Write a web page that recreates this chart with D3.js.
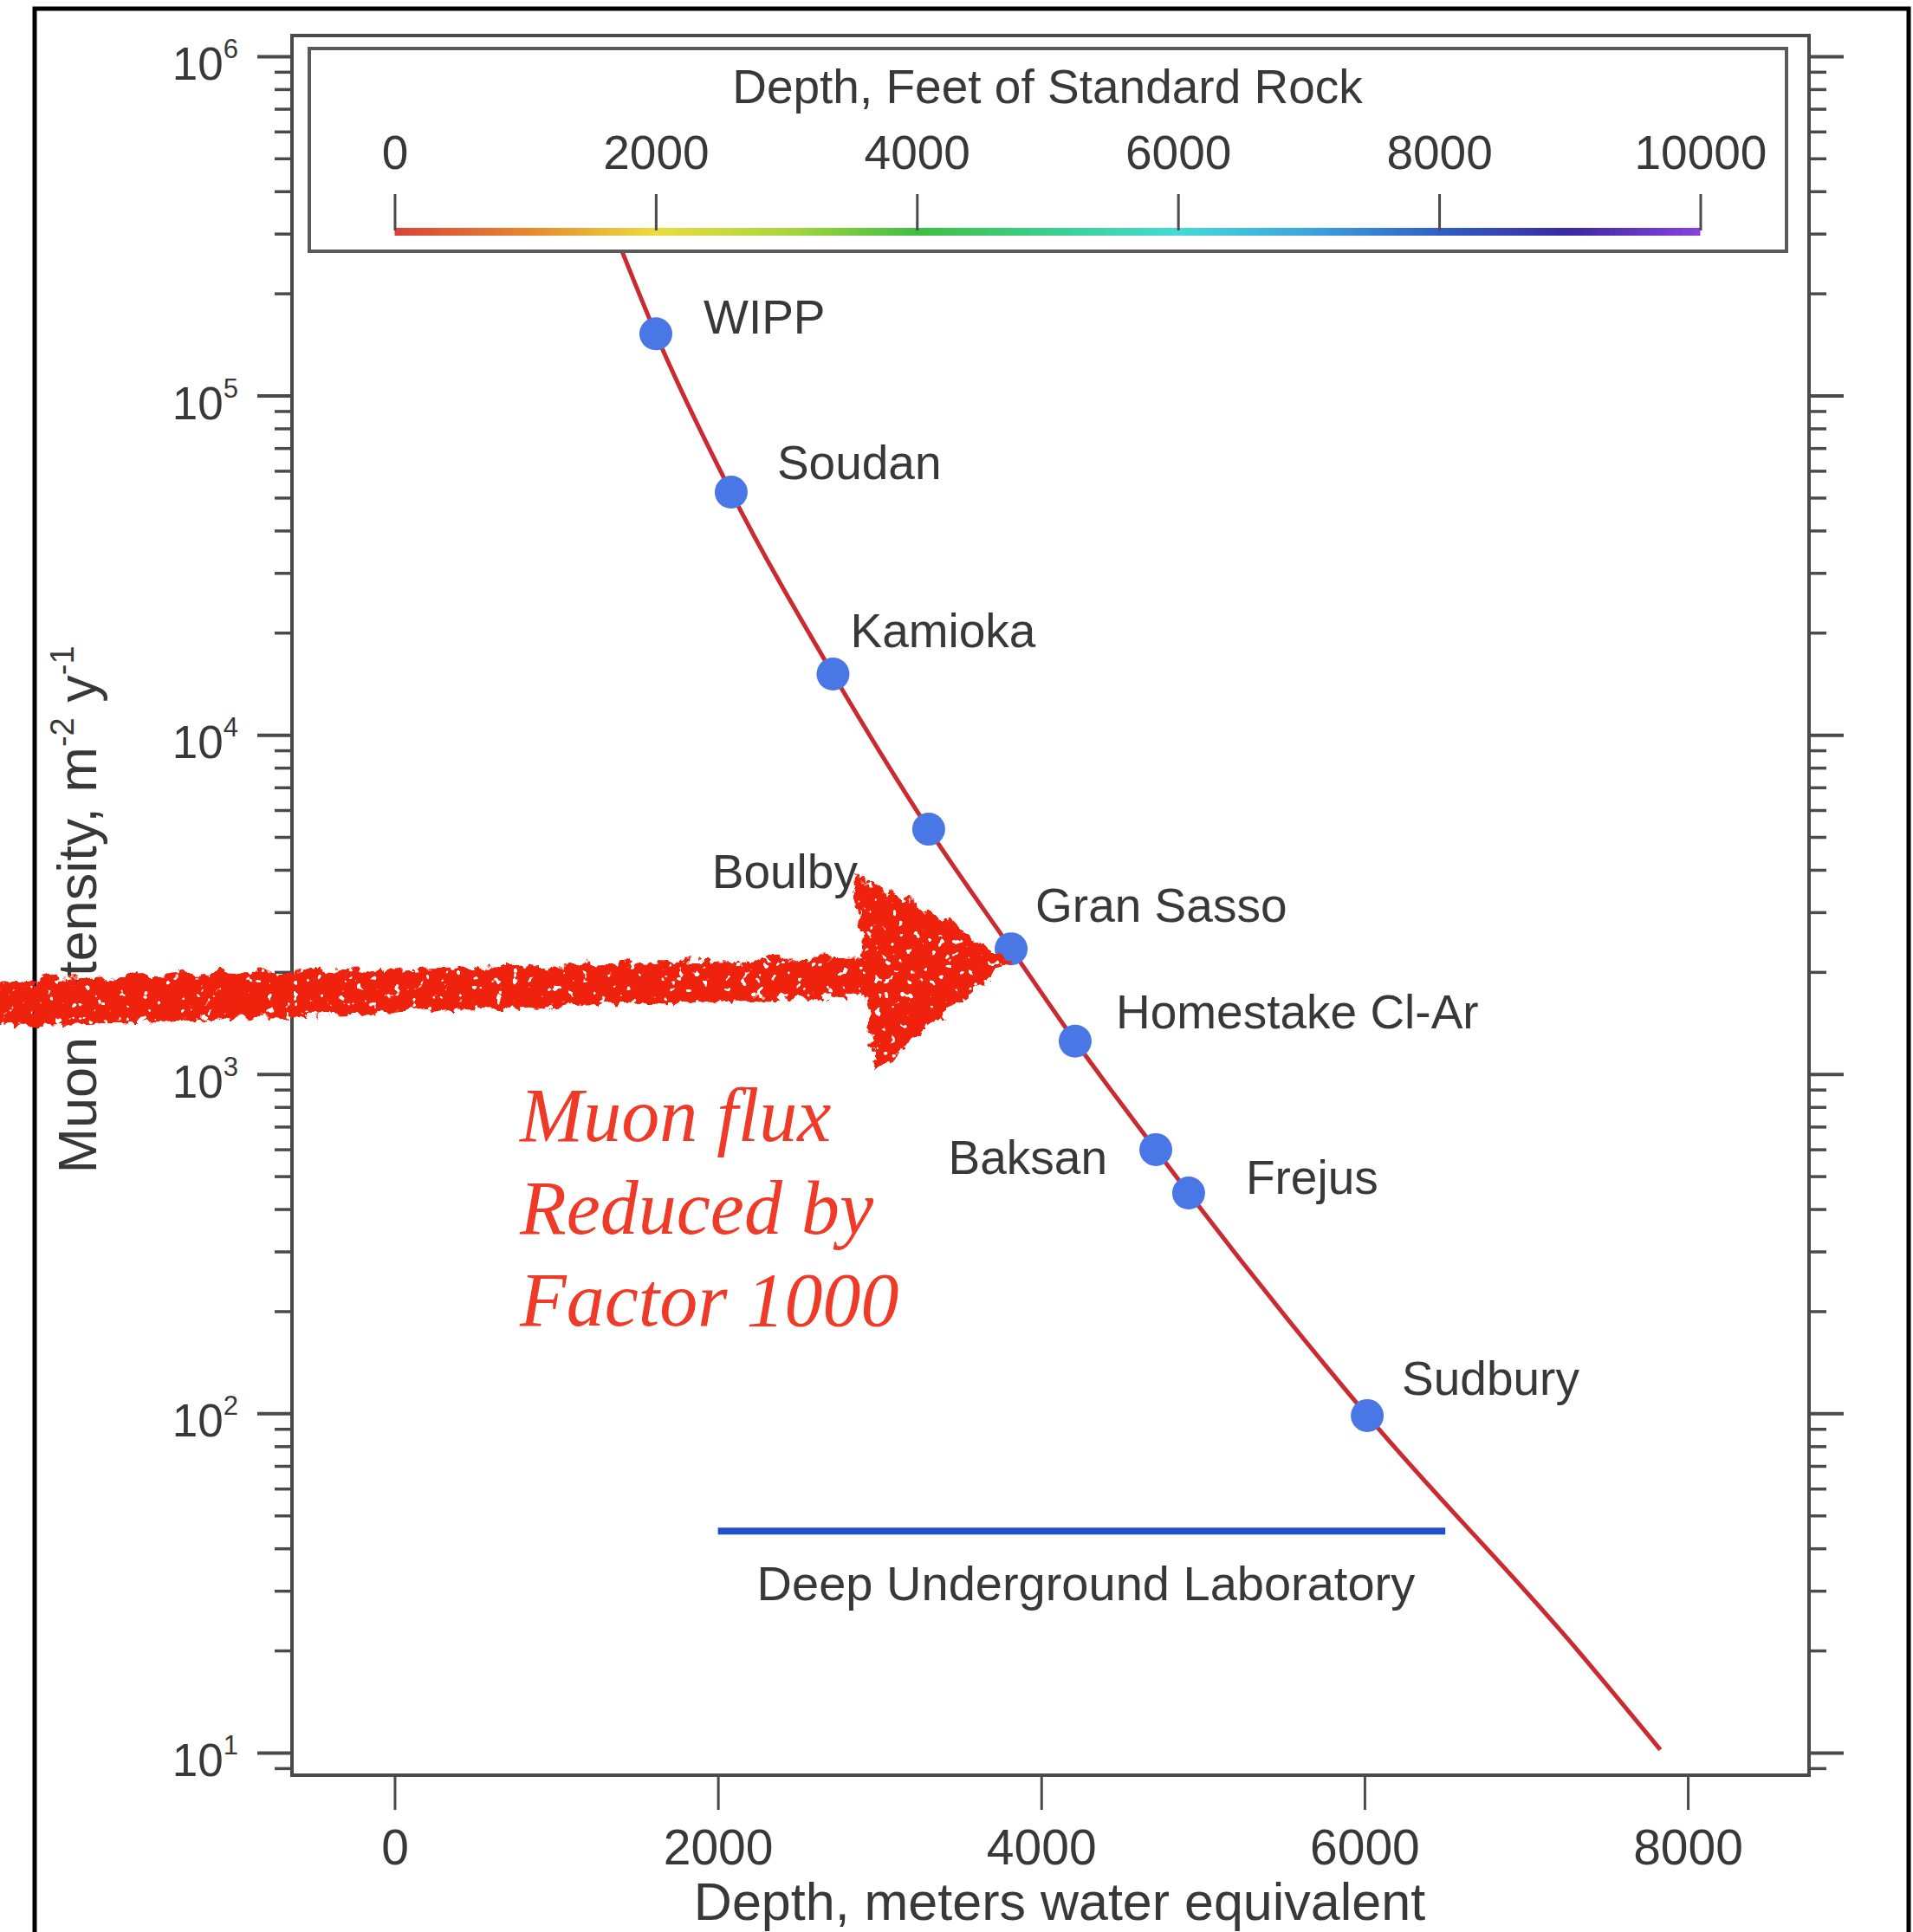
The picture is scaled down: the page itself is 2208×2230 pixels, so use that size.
<!DOCTYPE html>
<html>
<head>
<meta charset="utf-8">
<script src="https://cdn.jsdelivr.net/npm/d3@7"></script>
<style>
  html, body { margin: 0; background: #fff; overflow: hidden; }
  svg { display: block; }
</style>
</head>
<body>
<div id="chart"></div>
<script>
// underground labs
var sites = ["WIPP", "Soudan", "Kamioka", "Boulby", "Gran Sasso", "Homestake Cl-Ar", "Baksan", "Frejus", "Sudbury"];
var siteDepth = [1616, 2082, 2712, 3304, 3814, 4210, 4709, 4912, 6017];          // m w.e.
var siteIntensity = [1.52e5, 5.19e4, 1.51e4, 5.27e3, 2.34e3, 1.25e3, 599, 446, 98.5]; // m^-2 y^-1

// red curve, points
var curveDepth = [1407, 1616, 2082, 2712, 3304, 3814, 4210, 4709, 4912, 6017, 7300, 7830];
var curveIntensity = [2.66e5, 1.52e5, 5.19e4, 1.51e4, 5.27e3, 2.34e3, 1.25e3, 599, 446, 98.5, 20.5, 10.2];

// deep underground laboratory bar
var labDepth = [2000, 6500];
var labIntensity = 45;

var xTicks = [0, 2000, 4000, 6000, 8000];
var yMajorTicks = [1e1, 1e2, 1e3, 1e4, 1e5, 1e6];
var feetTicks = [0, 2000, 4000, 6000, 8000, 10000];
var xDomain = [-635, 8750];
var yDomain = [8.58, 1.151e6];

var width = 2208, height = 2230;
var plot = {left: 337, right: 2088, top: 41, bottom: 2049};
var sans = "'Liberation Sans', Arial, Helvetica, sans-serif";
var ink = "#383838", frameCol = "#4a4a4a";

var svg = d3.select("#chart").append("svg")
  .attr("width", width)
  .attr("height", height);

var defs = svg.append("defs");

var x = d3.scaleLinear().domain(xDomain).range([plot.left, plot.right]);
var y = d3.scaleLog().domain(yDomain).range([plot.bottom, plot.top]);

// standard rock 2.65 g/cm3 : feet -> m w.e.
var fx = d3.scaleLinear().domain([0, 10000]).range([x(0), x(10000 * 0.3048 * 2.65)]);

// outer black frame
svg.append("rect")
  .attr("x", 40).attr("y", 10)
  .attr("width", 2163).attr("height", 2260)
  .attr("fill", "#fff")
  .attr("stroke", "#000")
  .attr("stroke-width", 5);

// curve
var line = d3.line()
  .x(function(d) { return x(d[0]); })
  .y(function(d) { return y(d[1]); })
  .curve(d3.curveMonotoneX);

svg.append("path")
  .datum(d3.zip(curveDepth, curveIntensity))
  .attr("d", line)
  .attr("fill", "none")
  .attr("stroke", "#c92b30")
  .attr("stroke-width", 5);

// legend box (covers top of the curve)
svg.append("rect")
  .attr("x", 357).attr("y", 56)
  .attr("width", 1705).attr("height", 234)
  .attr("fill", "#fff")
  .attr("stroke", "#5a5a5a")
  .attr("stroke-width", 4);

// plot frame
svg.append("rect")
  .attr("x", plot.left).attr("y", plot.top)
  .attr("width", plot.right - plot.left).attr("height", plot.bottom - plot.top)
  .attr("fill", "none")
  .attr("stroke", frameCol)
  .attr("stroke-width", 4);

function styleAxis(g, sw) {
  g.select(".domain").remove();
  g.selectAll(".tick line").attr("stroke", frameCol).attr("stroke-width", sw);
  g.attr("font-family", sans).attr("fill", ink);
  g.selectAll(".tick text").attr("fill", ink);
}

var minorTicks = y.ticks().filter(function(v) { return yMajorTicks.indexOf(v) < 0; });

// left axis
var gl = svg.append("g").attr("transform", "translate(" + plot.left + ",0)");
gl.append("g").call(d3.axisLeft(y).tickValues(minorTicks).tickSize(20).tickFormat(""))
  .call(styleAxis, 3.5);
var glMaj = gl.append("g").call(d3.axisLeft(y).tickValues(yMajorTicks).tickSize(40).tickPadding(22).tickFormat(""))
  .call(styleAxis, 4);
glMaj.attr("font-size", 53);
glMaj.selectAll(".tick text").each(function(d) {
  var t = d3.select(this);
  t.text("10").attr("dy", "0.5em");
  t.append("tspan").attr("dy", -25).attr("font-size", 31).text(Math.round(Math.log10(d)));
});

// right axis (ticks only)
var gr = svg.append("g").attr("transform", "translate(" + plot.right + ",0)");
gr.append("g").call(d3.axisRight(y).tickValues(minorTicks).tickSize(20).tickFormat(""))
  .call(styleAxis, 3.5);
gr.append("g").call(d3.axisRight(y).tickValues(yMajorTicks).tickSize(40).tickFormat(""))
  .call(styleAxis, 4);

// bottom axis
var gb = svg.append("g").attr("transform", "translate(0," + plot.bottom + ")")
  .call(d3.axisBottom(x).tickValues(xTicks).tickSize(40).tickPadding(23).tickFormat(d3.format("d")))
  .call(styleAxis, 3);
gb.attr("font-size", 57);

// colour bar, feet of standard rock
var grad = defs.append("linearGradient").attr("id", "rainbow")
  .attr("gradientUnits", "userSpaceOnUse")
  .attr("x1", fx(0)).attr("x2", fx(10000)).attr("y1", 0).attr("y2", 0);
var stops = ["#d8433a", "#e6862f", "#ebdc3e", "#a9d63c", "#3fbf42", "#3bcf8c", "#45dad6", "#3ba5df", "#2f5fc6", "#3a28a4", "#8a42de"];
stops.forEach(function(c, i) {
  grad.append("stop").attr("offset", i / (stops.length - 1)).attr("stop-color", c);
});

svg.append("rect")
  .attr("x", fx(0)).attr("y", 263)
  .attr("width", fx(10000) - fx(0)).attr("height", 9)
  .attr("fill", "url(#rainbow)");

var gf = svg.append("g").attr("transform", "translate(0,266)")
  .call(d3.axisTop(fx).tickValues(feetTicks).tickSize(42).tickPadding(29).tickFormat(d3.format("d")))
  .call(styleAxis, 3);
gf.attr("font-size", 55);

svg.append("text")
  .attr("x", 1209).attr("y", 119)
  .attr("text-anchor", "middle")
  .attr("font-family", sans).attr("font-size", 55).attr("fill", ink)
  .text("Depth, Feet of Standard Rock");

// sites
var labelPos = {
  "WIPP": [55, 0, "start"],
  "Soudan": [53, -15, "start"],
  "Kamioka": [20, -31, "start"],
  "Boulby": [-82, 68, "end"],
  "Gran Sasso": [28, -31, "start"],
  "Homestake Cl-Ar": [47, -15, "start"],
  "Baksan": [-56, 28, "end"],
  "Frejus": [66, 1, "start"],
  "Sudbury": [40, -24, "start"]
};

var siteData = sites.map(function(s, i) { return {name: s, depth: siteDepth[i], value: siteIntensity[i]}; });

svg.selectAll(".site")
  .data(siteData)
  .enter()
  .append("circle")
  .attr("class", "site")
  .attr("cx", function(d) { return x(d.depth); })
  .attr("cy", function(d) { return y(d.value); })
  .attr("r", 19)
  .attr("fill", "#4a77e6");

svg.selectAll(".siteLabel")
  .data(siteData)
  .enter()
  .append("text")
  .attr("class", "siteLabel")
  .attr("x", function(d) { return x(d.depth) + labelPos[d.name][0]; })
  .attr("y", function(d) { return y(d.value) + labelPos[d.name][1]; })
  .attr("text-anchor", function(d) { return labelPos[d.name][2]; })
  .attr("font-family", sans).attr("font-size", 55).attr("fill", ink)
  .text(function(d) { return d.name; });

// deep underground laboratory
svg.append("line")
  .attr("x1", x(labDepth[0])).attr("x2", x(labDepth[1]))
  .attr("y1", y(labIntensity)).attr("y2", y(labIntensity))
  .attr("stroke", "#2150cc")
  .attr("stroke-width", 8);

svg.append("text")
  .attr("x", (x(labDepth[0]) + x(labDepth[1])) / 2 + 5)
  .attr("y", y(labIntensity) + 80)
  .attr("text-anchor", "middle")
  .attr("font-family", sans).attr("font-size", 56).attr("fill", ink)
  .text("Deep Underground Laboratory");

// axis titles
svg.append("text")
  .attr("x", 1223).attr("y", 2216)
  .attr("text-anchor", "middle")
  .attr("font-family", sans).attr("font-size", 61).attr("fill", ink)
  .text("Depth, meters water equivalent");

var yt = svg.append("text")
  .attr("transform", "translate(111,1050) rotate(-90)")
  .attr("text-anchor", "middle")
  .attr("font-family", sans).attr("font-size", 63).attr("fill", ink);
yt.append("tspan").text("Muon Intensity, m");
yt.append("tspan").attr("dy", -26).attr("font-size", 38).text("-2");
yt.append("tspan").attr("dy", 26).text(" y");
yt.append("tspan").attr("dy", -26).attr("font-size", 38).text("-1");

// red note
var note = ["Muon flux", "Reduced by", "Factor 1000"];
svg.selectAll(".note")
  .data(note)
  .enter()
  .append("text")
  .attr("class", "note")
  .attr("x", 600)
  .attr("y", function(d, i) { return 1317 + i * 106.5; })
  .attr("font-family", "'Liberation Serif', 'Times New Roman', serif")
  .attr("font-style", "italic")
  .attr("font-size", 88)
  .attr("fill", "#ee3a26")
  .text(function(d) { return d; });

// hand drawn arrow pointing at Gran Sasso
var rough = defs.append("filter").attr("id", "rough")
  .attr("x", "-0.05").attr("y", "-0.3").attr("width", "1.1").attr("height", "1.6");
rough.append("feTurbulence").attr("type", "turbulence").attr("baseFrequency", 0.045)
  .attr("numOctaves", 3).attr("seed", 4).attr("result", "n1");
rough.append("feDisplacementMap").attr("in", "SourceGraphic").attr("in2", "n1")
  .attr("scale", 16).attr("xChannelSelector", "R").attr("yChannelSelector", "G").attr("result", "d");
rough.append("feTurbulence").attr("type", "fractalNoise").attr("baseFrequency", 0.11)
  .attr("numOctaves", 2).attr("seed", 9).attr("result", "n2");
rough.append("feColorMatrix").attr("in", "n2").attr("type", "matrix")
  .attr("values", "0 0 0 0 0  0 0 0 0 0  0 0 0 0 0  -22 0 0 0 16").attr("result", "m");
rough.append("feComposite").attr("in", "d").attr("in2", "m").attr("operator", "in");

var gs = siteData[4];
var tx = x(gs.depth) - 4, ty = y(gs.value) + 11;
var arrow = d3.path();
arrow.moveTo(-20, ty + 22);
arrow.lineTo(tx - 170, ty - 5);
arrow.lineTo(tx - 178, ty - 96);
arrow.quadraticCurveTo(tx - 90, ty - 60, tx, ty);
arrow.quadraticCurveTo(tx - 80, ty + 62, tx - 156, ty + 128);
arrow.lineTo(tx - 166, ty + 40);
arrow.lineTo(-20, ty + 76);
arrow.closePath();

svg.append("path")
  .attr("d", arrow.toString())
  .attr("fill", "#ee2311")
  .attr("filter", "url(#rough)");
</script>
</body>
</html>
